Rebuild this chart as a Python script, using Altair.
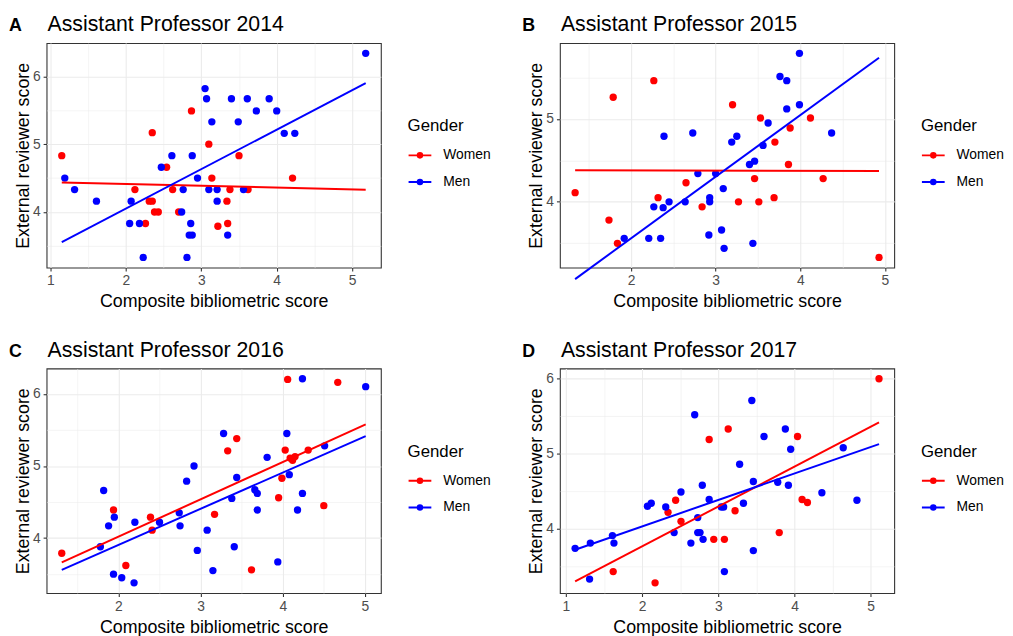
import math
import altair as alt
import pandas as pd

FONT = "Liberation Sans"
GENDERS = ["Women", "Men"]
COLORS = ["#FF0000", "#0000FF"]
LETTERS = ["A", "B", "C", "D"]
TITLES = ["Assistant Professor 2014", "Assistant Professor 2015",
          "Assistant Professor 2016", "Assistant Professor 2017"]
X_TITLE = "Composite bibliometric score"
Y_TITLE = "External reviewer score"

# Panel A (2014)
A_WOMEN_X = [1.15, 2.12, 2.35, 2.31, 2.35, 2.26, 2.38, 2.43, 2.54, 2.62, 2.70, 2.87, 3.10,
             3.14, 3.22, 3.34, 3.35, 3.38, 3.50, 3.62, 4.21]
A_WOMEN_Y = [4.83, 4.33, 5.17, 4.16, 4.16, 3.83, 4.00, 4.00, 4.66, 4.33, 4.00, 5.49, 5.00,
             4.50, 3.79, 4.16, 3.83, 4.33, 4.83, 4.33, 4.50]
A_MEN_X = [1.19, 1.32, 1.61, 2.07, 2.05, 2.18, 2.23, 2.47, 2.61, 2.76, 2.74, 2.81, 2.86,
           2.84, 2.88, 2.88, 2.95, 3.05, 3.07, 3.10, 3.14, 3.21, 3.21, 3.35, 3.40, 3.49,
           3.56, 3.61, 3.73, 3.90, 4.00, 4.10, 4.24, 5.18]
A_MEN_Y = [4.50, 4.33, 4.16, 4.16, 3.83, 3.83, 3.33, 4.66, 4.83, 4.33, 4.00, 3.33, 3.83,
           3.66, 3.66, 4.83, 4.50, 5.82, 5.67, 4.33, 5.33, 4.33, 4.16, 3.66, 5.67, 5.33,
           4.33, 5.67, 5.49, 5.67, 5.49, 5.16, 5.16, 6.34]

# Panel B (2015)
B_WOMEN_X = [1.34, 1.74, 1.79, 1.84, 2.27, 2.32, 2.65, 2.84, 3.20, 3.27, 3.46, 3.51, 3.53,
             3.69, 3.70, 3.86, 3.88, 4.12, 4.27, 4.93]
B_WOMEN_Y = [4.11, 3.78, 5.26, 3.50, 5.46, 4.05, 4.23, 3.94, 5.17, 4.00, 4.28, 4.00, 5.01,
             4.05, 4.72, 4.45, 4.89, 5.01, 4.28, 3.33]
B_MEN_X = [1.92, 2.21, 2.27, 2.35, 2.39, 2.38, 2.45, 2.64, 2.73, 2.79, 2.92, 2.93, 2.93,
           3.00, 3.07, 3.09, 3.10, 3.19, 3.25, 3.40, 3.46, 3.44, 3.56, 3.62, 3.76, 3.84,
           3.84, 3.99, 3.99, 4.37]
B_MEN_Y = [3.56, 3.56, 3.94, 3.56, 4.79, 3.93, 4.00, 4.00, 4.83, 4.34, 3.60, 4.05, 4.00,
           4.34, 3.66, 4.16, 3.44, 4.72, 4.79, 4.45, 4.49, 3.50, 4.68, 4.95, 5.51, 5.46,
           5.12, 5.79, 5.17, 4.83]

# Panel C (2016)
C_WOMEN_X = [1.31, 1.94, 2.09, 2.39, 2.41, 3.17, 3.33, 3.44, 3.62, 3.95, 3.99, 4.03, 4.06,
             4.09, 4.12, 4.15, 4.31, 4.50, 4.67]
C_WOMEN_Y = [3.79, 4.39, 3.62, 4.29, 4.11, 4.33, 5.21, 5.38, 3.56, 4.56, 4.83, 5.22, 6.20,
             5.11, 5.08, 5.13, 5.22, 4.45, 6.16]
C_MEN_X = [1.78, 1.82, 1.88, 1.94, 1.95, 2.04, 2.19, 2.20, 2.50, 2.74, 2.75, 2.83, 2.92,
           2.96, 3.08, 3.15, 3.28, 3.38, 3.41, 3.44, 3.66, 3.69, 3.69, 3.81, 3.94, 4.05,
           4.08, 4.18, 4.24, 4.24, 4.51, 5.01]
C_MEN_Y = [3.88, 4.66, 4.17, 3.50, 4.29, 3.45, 3.38, 4.22, 4.22, 4.35, 4.17, 4.79, 5.00,
           3.83, 4.11, 3.55, 5.45, 4.55, 3.88, 4.84, 4.67, 4.62, 4.39, 5.12, 3.67, 5.45,
           4.88, 4.39, 4.62, 6.21, 5.28, 6.10]

# Panel D (2017)
D_WOMEN_X = [1.62, 2.17, 2.34, 2.44, 2.51, 2.88, 2.94, 3.08, 3.13, 3.22, 3.80, 4.04, 4.10,
             4.17, 5.11]
D_WOMEN_Y = [3.43, 3.28, 4.22, 4.38, 4.10, 5.19, 3.86, 3.86, 5.33, 4.24, 3.95, 5.23, 4.39,
             4.35, 6.00]
D_MEN_X = [1.12, 1.31, 1.32, 1.61, 1.63, 2.07, 2.12, 2.31, 2.42, 2.51, 2.64, 2.69, 2.73,
           2.73, 2.76, 2.79, 2.80, 2.88, 3.04, 3.07, 3.08, 3.28, 3.33, 3.44, 3.46, 3.46,
           3.60, 3.78, 3.88, 3.92, 3.95, 4.36, 4.64, 4.82]
D_MEN_Y = [3.74, 3.33, 3.81, 3.91, 3.81, 4.30, 4.34, 4.29, 3.95, 4.49, 3.81, 5.52, 4.15,
           3.95, 3.95, 4.58, 3.86, 4.39, 4.29, 4.29, 3.43, 4.86, 4.34, 5.71, 3.71, 4.63,
           5.23, 4.62, 5.33, 4.58, 5.06, 4.48, 5.08, 4.38]

PANELS = [
    (A_WOMEN_X, A_WOMEN_Y, A_MEN_X, A_MEN_Y),
    (B_WOMEN_X, B_WOMEN_Y, B_MEN_X, B_MEN_Y),
    (C_WOMEN_X, C_WOMEN_Y, C_MEN_X, C_MEN_Y),
    (D_WOMEN_X, D_WOMEN_Y, D_MEN_X, D_MEN_Y),
]

# legend key: a short line with a dot on it (ggplot point+line key)
KEY_PATH = ("M-1,0L1,0M0.2,0A0.2,0.2,0,1,1,-0.2,0A0.2,0.2,0,1,1,0.2,0Z")

W, H = 338, 227


def expand(vals):
    lo, hi = min(vals), max(vals)
    pad = 0.05 * (hi - lo)
    return [lo - pad, hi + pad]


def half_steps(dom):
    return [k / 2 for k in range(math.ceil(dom[0] * 2), math.floor(dom[1] * 2) + 1)]


def make_axis(title, dom):
    major = "datum.value % 1 === 0"
    return alt.Axis(
        title=title,
        values=half_steps(dom),
        labelExpr=f"{major} ? format(datum.value, 'd') : ''",
        gridWidth={"condition": {"test": major, "value": 1.1}, "value": 0.55},
        tickOpacity={"condition": {"test": major, "value": 1}, "value": 0},
    )


def panel(i):
    wx, wy, mx, my = PANELS[i]
    df = pd.DataFrame({
        "x": wx + mx,
        "y": wy + my,
        "Gender": [GENDERS[0]] * len(wx) + [GENDERS[1]] * len(mx),
    })
    xdom = expand(df["x"].tolist())
    ydom = expand(df["y"].tolist())
    xenc = alt.X("x:Q", scale=alt.Scale(domain=xdom, nice=False, zero=False),
                 axis=make_axis(X_TITLE, xdom))
    yenc = alt.Y("y:Q", scale=alt.Scale(domain=ydom, nice=False, zero=False),
                 axis=make_axis(Y_TITLE, ydom))
    legend = alt.Legend(
        title="Gender", orient="none", legendX=W + 27, legendY=76,
        symbolType=KEY_PATH, symbolSize=529, symbolStrokeWidth=2, symbolOpacity=1,
        titleFont=FONT, titleFontSize=17, titleFontWeight="normal", titleColor="black",
        labelFont=FONT, labelFontSize=14, labelColor="black",
        titlePadding=8, rowPadding=7, labelOffset=11,
    )
    color = alt.Color("Gender:N", scale=alt.Scale(domain=GENDERS, range=COLORS),
                      sort=GENDERS, legend=legend)
    base = alt.Chart(df)
    points = base.mark_circle(size=55, opacity=1).encode(
        x=xenc, y=yenc, color=color, order=alt.Order("Gender:N", sort="descending"))
    lines = base.transform_regression(
        "x", "y", groupby=["Gender"], extent=[min(df["x"]), max(df["x"])]
    ).mark_line(strokeWidth=2).encode(x=xenc, y=yenc, color=color)
    heading = alt.Chart(pd.DataFrame({"letter": [LETTERS[i]], "title": [TITLES[i]]}))
    letter = heading.mark_text(
        align="left", baseline="alphabetic", font=FONT, fontSize=18,
        fontWeight="bold", color="black"
    ).encode(text="letter:N", x=alt.value(-38), y=alt.value(-12))
    title = heading.mark_text(
        align="left", baseline="alphabetic", font=FONT, fontSize=21.5,
        fontWeight="normal", color="black"
    ).encode(text="title:N", x=alt.value(1), y=alt.value(-12))
    return alt.layer(points, lines, letter, title).properties(width=W, height=H)


def row(a, b):
    return alt.hconcat(panel(a), panel(b), spacing=30).resolve_scale(
        x="independent", y="independent", color="independent"
    ).resolve_legend(color="independent")


chart = alt.vconcat(row(0, 1), row(2, 3), spacing=27).resolve_scale(
    x="independent", y="independent", color="independent"
).resolve_legend(color="independent").properties(
    padding={"left": 0, "top": 2, "right": 0, "bottom": 0},
    background="white",
).configure_view(
    stroke="#333333", strokeWidth=1.1
).configure_axis(
    labelFont=FONT, labelFontSize=14, labelColor="#4D4D4D", labelPadding=3,
    titleFont=FONT, titleFontSize=18, titleFontWeight="normal", titleColor="black",
    domain=False, tickColor="#333333", tickSize=3.5, tickWidth=1.1,
    gridColor="#EBEBEB",
).configure_axisX(
    titlePadding=5
).configure_axisY(
    titlePadding=0
)

chart.save("out.html", embed_options={"renderer": "svg", "actions": False})
